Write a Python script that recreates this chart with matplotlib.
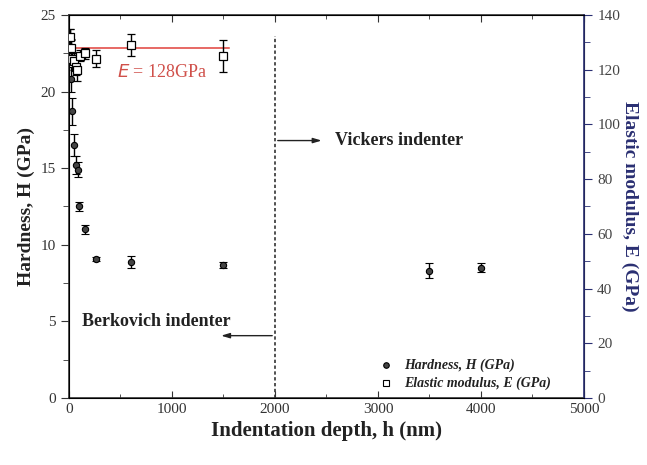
import numpy as np
import matplotlib.pyplot as plt

plt.rcParams['font.family'] = ['Liberation Serif', 'DejaVu Serif']

# Hardness (left axis)
h_depth = [10, 15, 20, 25, 45, 65, 85, 100, 155, 265, 600, 1500, 3500, 4000]
h_val = [23.5, 22.9, 20.8, 18.7, 16.5, 15.2, 14.9, 12.5, 11.0, 9.05, 8.9, 8.7, 8.3, 8.5]
h_err = [0.6, 0.5, 0.8, 0.9, 0.7, 0.6, 0.5, 0.3, 0.3, 0.12, 0.4, 0.2, 0.5, 0.3]

# Elastic modulus (right axis)
e_depth = [10, 20, 30, 50, 70, 80, 110, 160, 260, 600, 1500]
e_val = [132, 128, 124, 123, 121, 120, 125, 126, 124, 129, 125]
e_err = [3, 3, 2, 3, 3, 4, 2, 2, 3, 4, 6]

e_fit = 128
fit_range = [40, 1550]

fig = plt.figure(figsize=(6.47, 4.65), dpi=100)
ax = fig.add_axes([0.1066, 0.144, 0.796, 0.824])
ax2 = ax.twinx()

navy = '#2a2f72'

ax.errorbar(h_depth, h_val, yerr=h_err, fmt='o', ms=4.5, mfc='#444444', mec='black',
            mew=0.8, ecolor='black', elinewidth=1, capsize=3, capthick=1, zorder=3)
ax2.errorbar(e_depth, e_val, yerr=e_err, fmt='s', ms=5.5, mfc='white', mec='black',
             mew=0.9, ecolor='black', elinewidth=1, capsize=3, capthick=1, zorder=3)
ax2.plot(fit_range, [e_fit, e_fit], color='#e0403a', lw=1.1, zorder=2)

ax.set_xlim(0, 5000)
ax.set_ylim(0, 25)
ax2.set_ylim(0, 140)

ax.set_xticks([0, 1000, 2000, 3000, 4000, 5000])
ax.set_xticks(np.arange(500, 5000, 1000), minor=True)
ax.set_yticks([0, 5, 10, 15, 20, 25])
ax.set_yticks(np.arange(2.5, 25, 5), minor=True)
ax2.set_yticks(np.arange(0, 141, 20))
ax2.set_yticks(np.arange(10, 140, 20), minor=True)

ax.tick_params(axis='x', which='both', direction='in', top=True, labelsize=11, colors='#333333')
ax.tick_params(axis='x', which='major', length=5)
ax.tick_params(axis='x', which='minor', length=3)
ax.tick_params(axis='y', which='both', direction='out', labelsize=11, colors='#333333')
ax.tick_params(axis='y', which='major', length=6)
ax.tick_params(axis='y', which='minor', length=4)
ax2.tick_params(axis='y', which='both', direction='out', labelsize=11, colors=navy,
                labelcolor='#444444')
ax2.tick_params(axis='y', which='major', length=6)
ax2.tick_params(axis='y', which='minor', length=4)
ax2.spines['right'].set_color(navy)
ax2.spines['right'].set_linewidth(1.2)
for s in ['left', 'bottom', 'top']:
    ax.spines[s].set_color('#333333')
    ax.spines[s].set_linewidth(1.2)

ax.set_xlabel('Indentation depth, h (nm)', fontsize=15, fontweight='bold', color='#222222')
ax.set_ylabel('Hardness, H (GPa)', fontsize=14, fontweight='bold', color='#222222')
ax2.set_ylabel('Elastic modulus, E (GPa)', fontsize=14, fontweight='bold', color=navy,
               rotation=270, labelpad=13)

# boundary between indenters
ax.plot([2000, 2000], [0, 23.6], ls=(0, (2, 1.5)), color='#333333', lw=1.2)
ax.annotate('', xy=(2480, 16.8), xytext=(2000, 16.8),
            arrowprops=dict(arrowstyle='-|>,head_length=0.5,head_width=0.15',
                            color='#222222', lw=1))
ax.text(2580, 16.8, 'Vickers indenter', fontsize=13, fontweight='bold', color='#222222',
        va='center', ha='left')
ax.annotate('', xy=(1450, 4.07), xytext=(2000, 4.07),
            arrowprops=dict(arrowstyle='-|>,head_length=0.5,head_width=0.15',
                            color='#222222', lw=1))
ax.text(850, 5.0, 'Berkovich indenter', fontsize=13, fontweight='bold', color='#222222',
        va='center', ha='center')

ax2.text(900, 119, r'$\it{E}$ = 128GPa', fontsize=13, color='#d0504a', ha='center', va='center')

# legend
ax.plot([3080], [2.15], 'o', ms=4, mfc='#444444', mec='black', mew=0.8)
ax.plot([3080], [0.98], 's', ms=4.5, mfc='white', mec='black', mew=0.8)
ax.text(3250, 2.15, 'Hardness, H (GPa)', fontsize=10, fontstyle='italic', fontweight='bold',
        color='#222222', va='center')
ax.text(3250, 0.98, 'Elastic modulus, E (GPa)', fontsize=10, fontstyle='italic',
        fontweight='bold', color='#222222', va='center')

fig.savefig('out.png', dpi=100)
